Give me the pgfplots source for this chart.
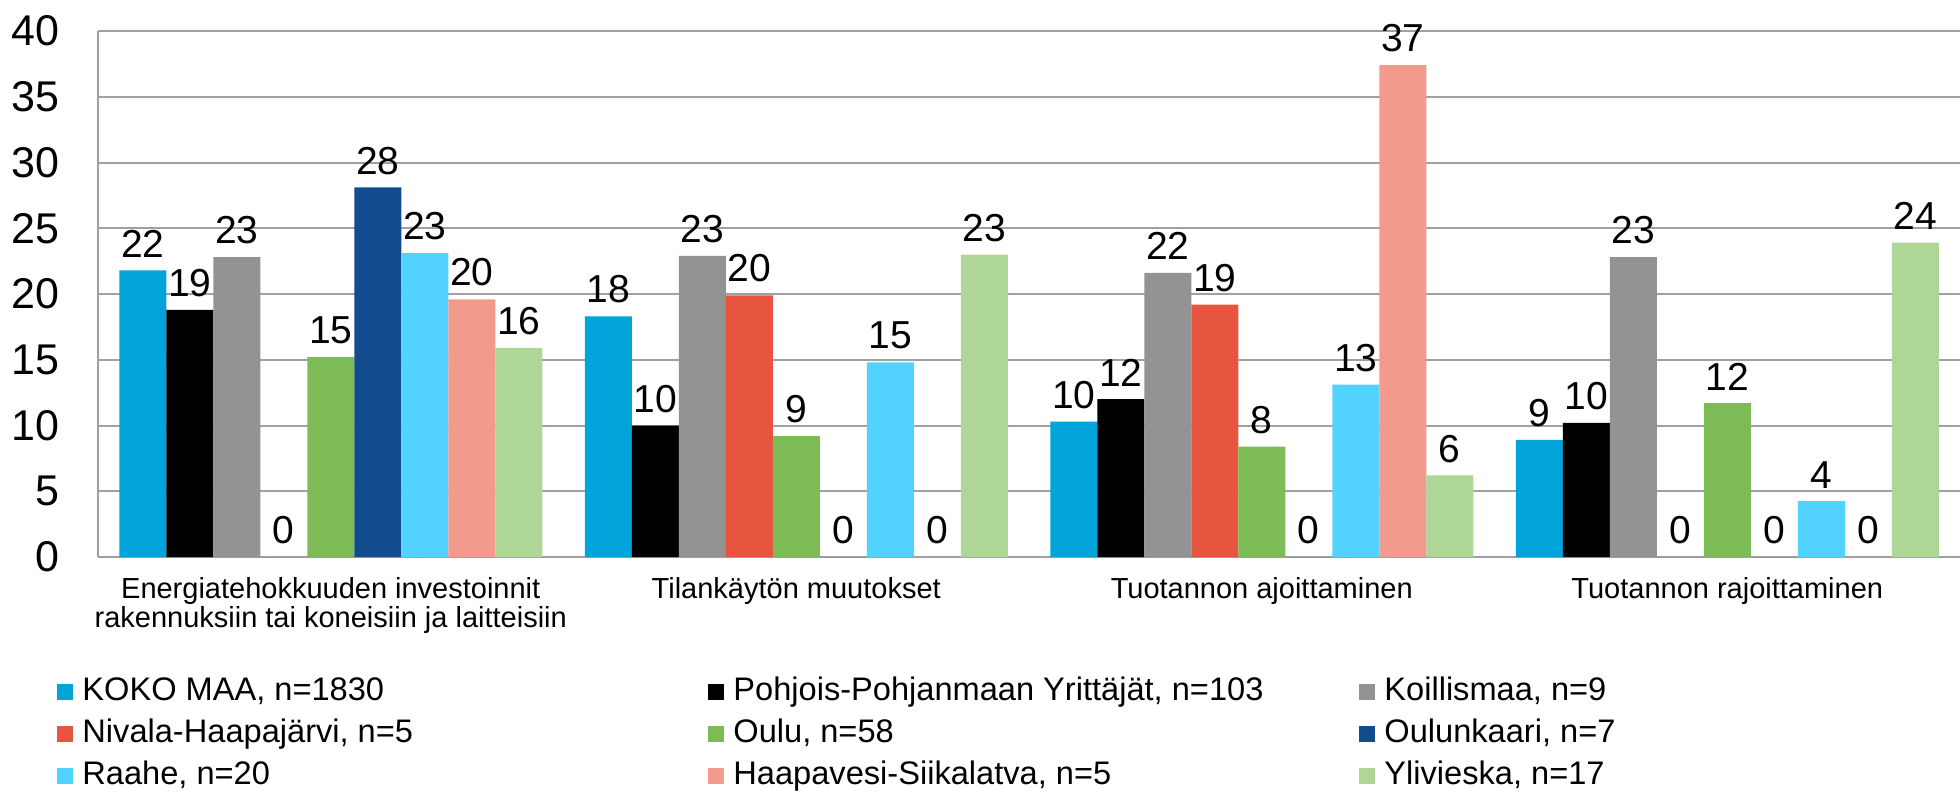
\documentclass[border=0pt]{standalone}
\usepackage{pgfplots}
\pgfplotsset{compat=1.18}
\usepackage{fontspec}
\setmainfont{Liberation Sans}

\definecolor{cKoko}{RGB}{0,163,218}
\definecolor{cPPY}{RGB}{0,0,0}
\definecolor{cKoil}{RGB}{147,147,147}
\definecolor{cNiva}{RGB}{232,85,62}
\definecolor{cOulu}{RGB}{124,187,85}
\definecolor{cOkaa}{RGB}{19,75,143}
\definecolor{cRaah}{RGB}{82,211,255}
\definecolor{cHaap}{RGB}{242,154,140}
\definecolor{cYliv}{RGB}{174,214,150}
\definecolor{gridgray}{RGB}{160,160,160}

\begin{document}
\begin{tikzpicture}
\path[use as bounding box] (-49pt,-118.5pt) rectangle (931pt,278.5pt);
\begin{axis}[
  at={(0,0)}, anchor=south west,
  scale only axis, width=931pt, height=263pt,
  ybar=0pt, bar width=23.5pt,
  legend image code/.code={\fill[#1] (0pt,-4pt) rectangle (8pt,4pt);},
  xmin=-0.5, xmax=3.5, ymin=0, ymax=40,
  ytick={0,5,...,40},
  xtick={0,1,2,3},
  xticklabels={{Energiatehokkuuden investoinnit\\rakennuksiin tai koneisiin ja laitteisiin},
    Tilankäytön muutokset, Tuotannon ajoittaminen, Tuotannon rajoittaminen},
  axis x line*=bottom, axis y line*=left,
  axis line style={draw=gridgray, line width=1.2pt},
  ymajorgrids, grid style={draw=gridgray, line width=1pt},
  major tick length=0pt,
  /pgf/number format/assume math mode=true,
  yticklabel style={font=\fontsize{21.5}{21.5}\selectfont, xshift=-16pt},
  xticklabel style={font=\fontsize{14.5}{14.5}\selectfont, align=center, yshift=-6.5pt},
  nodes near coords,
  every node near coord/.append style={font=\fontsize{19.5}{19.5}\selectfont, yshift=3pt,
    /pgf/number format/fixed, /pgf/number format/precision=0},
  legend columns=3,
  legend style={at={(-0.022,-0.2244)}, anchor=north west, draw=none, fill=none,
    inner sep=0pt, font=\fontsize{16.3}{18}\selectfont, column sep=0pt, row sep=4pt,
    nodes={inner sep=0pt, text height=12.5pt, text depth=4.5pt}, cells={anchor=west}},
]
\addplot[fill=cKoko, draw=none] coordinates {(0,21.8) (1,18.3) (2,10.3) (3,8.9)};
\addlegendentry{\hspace{4.5pt}\makebox[313pt][l]{KOKO MAA, n=1830}}
\addplot[fill=cPPY, draw=none] coordinates {(0,18.8) (1,10.0) (2,12.0) (3,10.2)};
\addlegendentry{\hspace{4.5pt}\makebox[313pt][l]{Pohjois-Pohjanmaan Yrittäjät, n=103}}
\addplot[fill=cKoil, draw=none] coordinates {(0,22.8) (1,22.9) (2,21.6) (3,22.8)};
\addlegendentry{\hspace{4.5pt}\makebox[313pt][l]{Koillismaa, n=9}}
\addplot[fill=cNiva, draw=none] coordinates {(0,0) (1,19.9) (2,19.2) (3,0)};
\addlegendentry{\hspace{4.5pt}\makebox[313pt][l]{Nivala-Haapajärvi, n=5}}
\addplot[fill=cOulu, draw=none] coordinates {(0,15.2) (1,9.2) (2,8.4) (3,11.7)};
\addlegendentry{\hspace{4.5pt}\makebox[313pt][l]{Oulu, n=58}}
\addplot[fill=cOkaa, draw=none] coordinates {(0,28.1) (1,0) (2,0) (3,0)};
\addlegendentry{\hspace{4.5pt}\makebox[313pt][l]{Oulunkaari, n=7}}
\addplot[fill=cRaah, draw=none] coordinates {(0,23.1) (1,14.8) (2,13.1) (3,4.25)};
\addlegendentry{\hspace{4.5pt}\makebox[313pt][l]{Raahe, n=20}}
\addplot[fill=cHaap, draw=none] coordinates {(0,19.6) (1,0) (2,37.4) (3,0)};
\addlegendentry{\hspace{4.5pt}\makebox[313pt][l]{Haapavesi-Siikalatva, n=5}}
\addplot[fill=cYliv, draw=none] coordinates {(0,15.9) (1,23.0) (2,6.2) (3,23.9)};
\addlegendentry{\hspace{4.5pt}\makebox[313pt][l]{Ylivieska, n=17}}
\end{axis}
\end{tikzpicture}
\end{document}
